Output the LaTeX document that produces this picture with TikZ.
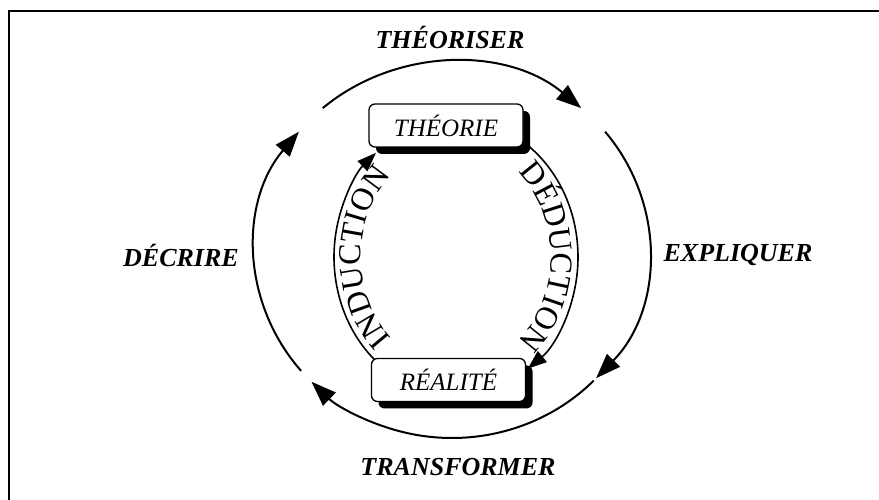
\documentclass[tikz,border=0pt]{standalone}
\usepackage{fontspec}
\setmainfont{Liberation Serif}
\usetikzlibrary{arrows.meta,decorations.text,shadows,calc}
\begin{document}
\begin{tikzpicture}[x=1pt,y=1pt,
  outer/.style={line width=2pt,-{Triangle[length=25pt,width=18pt]}},
  inner/.style={line width=1.6pt,-{Triangle[length=19pt,width=14pt]}},
  lbl/.style={font=\fontsize{26}{26}\selectfont\bfseries\itshape},
  boxn/.style={draw, line width=1.3pt, rounded corners=6pt, fill=white,
    minimum width=154pt, minimum height=43pt, inner sep=0pt,
    font=\fontsize{25}{25}\selectfont\itshape,
    drop shadow={fill=black,opacity=1,shadow xshift=7pt,shadow yshift=-7pt}},
  arctext/.style={decorate, decoration={text along path, text align=center}},
]
\useasboundingbox (0,0) rectangle (879,500);
\begin{scope}
\clip (0,0) rectangle (879,500);
\draw[line width=2.2pt] (9,489) rectangle (900,-20);
\end{scope}

\coordinate (O) at (452,250);
\coordinate (I) at (456,243);

% boxes
\node[boxn] (theorie) at (446,374.5) {THÉORIE};
\node[boxn] (realite) at (448.5,120) {RÉALITÉ};

% outer cycle
\draw[outer] ($(O)+(131:197 and 188)$) arc[start angle=131,end angle=49,x radius=197,y radius=188];
\draw[outer] ($(O)+(39:197 and 188)$) arc[start angle=39,end angle=-43,x radius=197,y radius=188];
\draw[outer] ($(O)+(-44:197 and 188)$) arc[start angle=-44,end angle=-135.5,x radius=197,y radius=188];
\draw[outer] ($(O)+(-140:197 and 188)$) arc[start angle=-140,end angle=-219,x radius=197,y radius=188];

% inner arcs
\draw[inner] ($(I)+(228:122 and 138)$) arc[start angle=228,end angle=131,x radius=122,y radius=138];
\draw[inner] ($(I)+(53:122 and 138)$) arc[start angle=53,end angle=-54,x radius=122,y radius=138];
\path[arctext, decoration={text={|\fontsize{32}{32}\selectfont|INDUCTION}}]
  ($(I)+(245:95 and 111)$) arc[start angle=245,end angle=115,x radius=95,y radius=111];
\path[arctext, decoration={text={|\fontsize{32}{32}\selectfont|DÉDUCTION}}]
  ($(I)+(65:95 and 111)$) arc[start angle=65,end angle=-65,x radius=95,y radius=111];

% labels
\node[lbl] (theoriser) at (450,463) {THÉORISER};
\node[lbl] (decrire) at (181,245) {DÉCRIRE};
\node[lbl] (expliquer) at (738,245) {EXPLIQUER};
\node[lbl] (transformer) at (458,33) {TRANSFORMER};
\end{tikzpicture}
\end{document}
